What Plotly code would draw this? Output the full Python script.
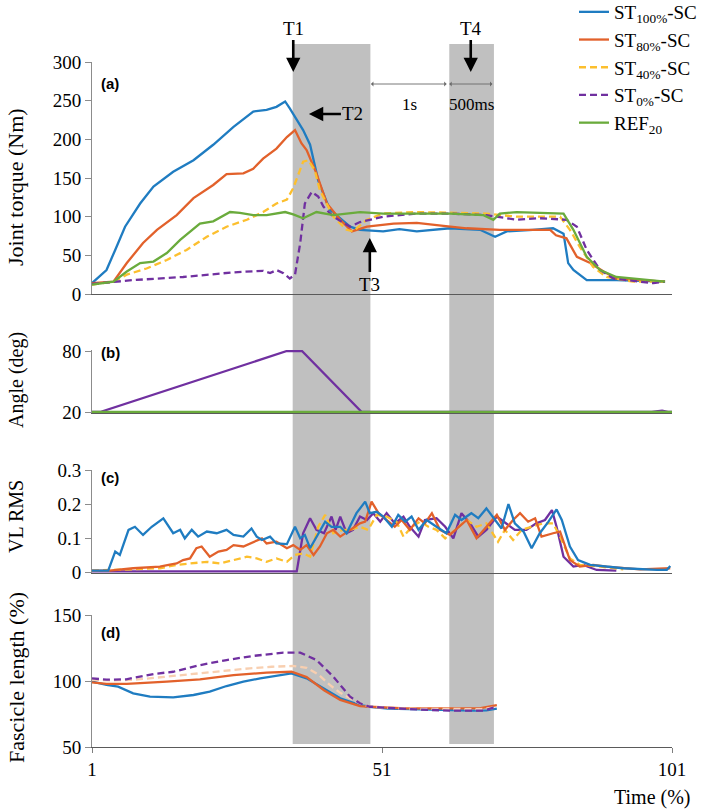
import plotly.graph_objects as go

W, H = 709, 810

# ---------------- data ----------------
series_names = ["ST<sub>100%</sub>-SC", "ST<sub>80%</sub>-SC", "ST<sub>40%</sub>-SC",
                "ST<sub>0%</sub>-SC", "REF<sub>20</sub>"]
series_colors = ["#1f7cc1", "#e2612b", "#fcbf2e", "#7030a0", "#6aab3c"]
series_dash = ["solid", "solid", "7px,4px", "7px,4px", "solid"]
st40_fascicle_color = "#f8cfb0"

x_ticks = [1, 51, 101]
torque_ticks = [0, 50, 100, 150, 200, 250, 300]
angle_ticks = [20, 80]
rms_ticks = [0, 0.1, 0.2, 0.3]
rms_tick_text = ["0", "0.1", "0.2", "0.3"]
fascicle_ticks = [50, 100, 150]

# (a) joint torque (Nm)
torque_st100_x = [1, 3.5, 5, 6.7, 9.3, 11.6, 15, 18.5, 21.9, 25.4, 28.8, 31.1, 32.8, 34.3, 35.1, 36,
                  37.4, 38.6, 40, 42, 45.5, 47.2, 51.2, 54, 57, 62.7, 67.9, 70.5, 72.5, 77, 80.5, 82.3,
                  83.1, 84, 86.3, 91.4, 99.8]
torque_st100_y = [14, 31, 57, 87, 117, 139, 158, 173, 193, 216, 236, 238, 242, 249, 240, 229,
                  212, 193, 147, 109, 87, 83, 81, 84, 81, 85, 83, 74, 81, 83, 85, 78,
                  40, 31, 18, 18, 16]
torque_st80_x = [1, 4.7, 7, 9.8, 12.2, 15.6, 18.5, 21.9, 24.2, 27.1, 28.8, 30.5, 32.8, 34.6, 36, 37.1,
                 38, 39.7, 41.5, 43.8, 45.8, 48.4, 53, 57, 61.6, 65.6, 71.3, 77, 80, 81, 82.8, 84.6,
                 86.9, 89.2, 91.4, 99.8]
torque_st80_y = [14, 16, 40, 66, 83, 102, 124, 141, 155, 156, 162, 175, 188, 203, 212, 195,
                 186, 156, 117, 96, 81, 87, 91, 92, 88, 85, 83, 83, 83, 76, 72, 48,
                 40, 29, 20, 16]
torque_st40_x = [1, 4.7, 7, 10.4, 13.9, 17.3, 20.8, 24.2, 27.7, 30.5, 32.8, 34.6, 35.7, 36.6, 37.4, 38.3,
                 39.4, 40.3, 42.6, 44.9, 46, 48.4, 51.2, 57, 62.7, 69, 74.2, 81.7, 83.4, 85.1, 87.4,
                 89.7, 94.3, 99.8]
torque_st40_y = [12, 16, 25, 33, 44, 57, 74, 87, 96, 106, 117, 122, 137, 156, 171, 173,
                 160, 134, 100, 83, 81, 96, 104, 106, 105, 104, 100, 100, 83, 61, 35,
                 22, 16, 16]
torque_st0_x = [1, 8.1, 16.7, 25.4, 30.5, 31.7, 32.8, 34, 35.1, 36, 36.9, 37.7, 38.9, 40, 40.9, 42.6,
                45.5, 47.2, 51.2, 57, 62.7, 69, 74.2, 78.2, 82.8, 84.6, 86.3, 88.6, 90.9, 97.8, 99.8]
torque_st0_y = [13, 18, 22, 28, 30, 27, 31, 27, 20, 25, 66, 117, 132, 126, 113, 100,
                87, 93, 100, 104, 104, 102, 96, 98, 96, 87, 57, 31, 20, 14, 16]
torque_ref_x = [1, 4.7, 7, 9.3, 11.6, 13.9, 16.2, 17.9, 19.6, 21.9, 24.8, 26.5, 28.8, 31.1, 34.3, 35.7,
                37.4, 39.7, 42.6, 47.2, 51.2, 57, 62.7, 68.5, 70.2, 71.3, 74.2, 82.3, 84, 86.3, 88.6,
                91.4, 99.8]
torque_ref_y = [12, 16, 29, 40, 42, 53, 70, 81, 91, 94, 106, 105, 102, 102, 106, 103,
                98, 106, 102, 106, 104, 104, 104, 102, 96, 104, 106, 104, 83, 48, 31,
                22, 16]

# (b) angle (deg)
angle_st0_x = [1, 2.4, 34.6, 37.2, 47.5, 97.5, 99.3, 100.3, 101]
angle_st0_y = [20, 20, 80, 80, 20, 20, 21.2, 20, 20]
angle_ref_x = [1, 20, 40, 60, 80, 101]
angle_ref_y = [20, 20, 20, 20, 20, 20]

# (c) VL RMS
rms_st100_x = [1, 3.8, 5, 5.8, 7.3, 8.4, 9.8, 11.3, 13.3, 15, 16.2, 17, 18.2, 19.3, 20.8, 22.5, 24.2,
               25.4, 27.1, 28.5, 29.4, 30.3, 31.7, 32.8, 34.6, 36, 36.9, 37.7, 38.6, 40, 41.2, 42.3,
               43.8, 44.9, 46.6, 48.1, 48.9, 50.1, 51.2, 52.7, 53.8, 55, 56.1, 57.3, 58.7, 60.4, 62.1,
               63.6, 64.7, 66.4, 67.6, 69, 70.5, 71.6, 72.8, 73.9, 75.4, 76.8, 78.2, 79.7, 81.1, 82,
               83.4, 84.8, 86.9, 89.7, 92.6, 98.4, 100.1, 100.7]
rms_st100_y = [0.004, 0.004, 0.06, 0.05, 0.124, 0.133, 0.109, 0.133, 0.158, 0.114, 0.124, 0.099, 0.124,
               0.104, 0.119, 0.114, 0.124, 0.109, 0.104, 0.128, 0.104, 0.094, 0.104, 0.084, 0.082, 0.133,
               0.099, 0.109, 0.07, 0.114, 0.148, 0.133, 0.133, 0.114, 0.173, 0.207, 0.173, 0.177, 0.163,
               0.133, 0.168, 0.148, 0.163, 0.124, 0.153, 0.133, 0.114, 0.168, 0.153, 0.173, 0.158, 0.187,
               0.153, 0.128, 0.2, 0.143, 0.119, 0.07, 0.114, 0.148, 0.184, 0.153, 0.075, 0.035, 0.021,
               0.016, 0.011, 0.006, 0.006, 0.018]
rms_st80_x = [1, 4, 8.1, 12.7, 14.2, 15.6, 16.7, 17.9, 19, 19.9, 21.3, 22.8, 24.2, 25.4, 27.1, 28.8,
              30.3, 31.1, 32.8, 34.6, 35.7, 36.9, 38, 39.2, 40.3, 41.5, 42.6, 43.8, 45.5, 47.2, 48.1,
              49.2, 50.4, 51.8, 53.2, 54.4, 55.8, 57.3, 58.4, 59.6, 61, 62.7, 64.2, 65.6, 67.3, 69,
              70.8, 72.2, 73.6, 74.8, 76.2, 77.4, 78.5, 80.5, 81.7, 83.4, 85.1, 87.4, 89.7, 95.5, 100.7]
rms_st80_y = [0.004, 0.004, 0.011, 0.016, 0.021, 0.025, 0.035, 0.04, 0.07, 0.075, 0.045, 0.06, 0.065,
              0.079, 0.075, 0.089, 0.099, 0.084, 0.089, 0.07, 0.079, 0.065, 0.079, 0.05, 0.075, 0.114,
              0.124, 0.104, 0.124, 0.143, 0.148, 0.207, 0.173, 0.153, 0.133, 0.153, 0.124, 0.158, 0.143,
              0.173, 0.124, 0.109, 0.133, 0.153, 0.099, 0.133, 0.168, 0.124, 0.153, 0.173, 0.148, 0.158,
              0.104, 0.114, 0.119, 0.035, 0.016, 0.021, 0.016, 0.008, 0.011]
rms_st40_x = [1, 8.1, 12.7, 15.6, 18.5, 20.8, 23.1, 25.4, 27.7, 29.4, 31.1, 32.8, 34.6, 36, 37.4, 38.6,
              40, 41.2, 42.6, 44.3, 45.5, 47.2, 48.6, 50.1, 51.8, 53.5, 54.7, 56.1, 57.6, 59, 60.4,
              61.9, 63.6, 65.6, 67.3, 69, 71, 72.2, 73.6, 75.1, 76.8, 78.8, 80.5, 81.7, 83.4, 85.1,
              88.6, 92.6]
rms_st40_y = [0.004, 0.008, 0.011, 0.021, 0.025, 0.03, 0.025, 0.035, 0.045, 0.04, 0.03, 0.04, 0.03, 0.05,
              0.055, 0.045, 0.133, 0.168, 0.114, 0.124, 0.124, 0.133, 0.124, 0.168, 0.163, 0.148, 0.104,
              0.133, 0.148, 0.133, 0.124, 0.099, 0.124, 0.153, 0.133, 0.143, 0.089, 0.124, 0.094, 0.124,
              0.133, 0.143, 0.143, 0.104, 0.04, 0.021, 0.016, 0.008]
rms_st0_x = [1, 36.3, 37.4, 38.6, 39.7, 41, 42.3, 43, 43.8, 44.9, 46, 47.2, 48.4, 49.5, 50.7, 51.8,
             53.2, 54.7, 55.8, 57.3, 58.4, 60.4, 61.9, 63.3, 64.7, 66.2, 67.6, 69, 70.8, 72.5, 73.9,
             75.9, 77.6, 79.1, 80.3, 81.1, 82.3, 84, 85.7, 88, 91.4]
rms_st0_y = [0.002, 0.002, 0.114, 0.158, 0.124, 0.114, 0.163, 0.124, 0.163, 0.114, 0.124, 0.163, 0.153,
             0.173, 0.148, 0.173, 0.143, 0.163, 0.133, 0.104, 0.153, 0.158, 0.133, 0.099, 0.173, 0.143,
             0.104, 0.124, 0.163, 0.143, 0.124, 0.124, 0.143, 0.153, 0.182, 0.133, 0.045, 0.016, 0.021,
             0.006, 0.004]

# (d) fascicle length (%)
fl_st100_x = [1, 3.5, 5.5, 8.1, 11, 15, 18.5, 21.3, 24.2, 27.1, 30, 32.8, 35.4, 38, 41, 43.8, 47.2,
              48.9, 52, 56, 60, 66.7, 69, 70.8]
fl_st100_y = [99.5, 97, 95.7, 90.7, 88.1, 87.6, 89.4, 91.9, 96.2, 99.5, 102, 104, 105.8, 102, 94, 86.9,
              81.8, 80.5, 79, 78.5, 78, 77.5, 77.8, 79]
fl_st80_x = [1, 3.5, 7, 10, 13.9, 19.6, 25.4, 31.1, 35.4, 38, 41, 43.8, 47.2, 48.9, 55, 62, 68, 70.8]
fl_st80_y = [99, 97.8, 97.8, 98.3, 99.5, 101.3, 104.5, 106.3, 107, 103, 93, 85.7, 81, 80.5, 79.3, 79.3,
             79.5, 81.8]
fl_st40_x = [1, 4, 8.1, 13, 19.6, 24, 28.2, 32, 35.6, 38, 40, 42, 43.8, 47.2, 48.9, 55, 62, 68, 70.8]
fl_st40_y = [101, 100.5, 100.8, 103, 105.8, 108, 109.6, 110.8, 111.4, 110, 105, 97, 91, 83, 80.5, 79,
             78.7, 78.7, 80]
fl_st0_x = [1, 3.5, 6.9, 11.6, 15, 19.6, 24.2, 28.8, 34, 36.9, 39.7, 42.6, 45.5, 47.2, 48.9, 55.3, 62.7,
            68.5, 70.8]
fl_st0_y = [102, 101, 101.3, 105.3, 107, 112, 115.9, 119, 121.5, 121.5, 115.9, 103.3, 88.1, 83.1, 80.5,
            78.8, 77.5, 77.5, 80.5]

# shaded phases (Time %) and event markers
band_starts = [35.6, 62.6]
band_ends = [49.0, 70.3]
event_labels = ["T1", "T2", "T3", "T4"]
event_times = [35.7, 38.4, 48.9, 66.3]
interval_labels = ["1s", "500ms"]
interval_starts = [49.1, 62.6]
interval_ends = [62.4, 70.3]

# ---------------- layout helpers (pixels -> paper) ----------------
def px(x):
    return x / W


def py(y):
    return 1 - y / H


SERIF = "Liberation Serif, Times New Roman, serif"
SANS = "Liberation Sans, Arial, sans-serif"
XDOM = [px(92), px(672)]

fig = go.Figure()

torque = [(torque_st100_x, torque_st100_y), (torque_st80_x, torque_st80_y), (torque_st40_x, torque_st40_y),
          (torque_st0_x, torque_st0_y), (torque_ref_x, torque_ref_y)]
for i, (xs, ys) in enumerate(torque):
    fig.add_trace(go.Scatter(x=xs, y=ys, mode="lines", name=series_names[i], legendgroup=str(i),
                             line=dict(color=series_colors[i], width=2.3, dash=series_dash[i]),
                             xaxis="x", yaxis="y", showlegend=True))

fig.add_trace(go.Scatter(x=angle_st0_x, y=angle_st0_y, mode="lines", legendgroup="3", showlegend=False,
                         line=dict(color=series_colors[3], width=2.3), xaxis="x2", yaxis="y2"))
fig.add_trace(go.Scatter(x=angle_ref_x, y=angle_ref_y, mode="lines", legendgroup="4", showlegend=False,
                         line=dict(color=series_colors[4], width=2.3), xaxis="x2", yaxis="y2"))

rms = [(rms_st100_x, rms_st100_y), (rms_st80_x, rms_st80_y), (rms_st40_x, rms_st40_y), (rms_st0_x, rms_st0_y)]
rms_dash = ["solid", "solid", "7px,4px", "solid"]
for i in [3, 2, 1, 0]:
    xs, ys = rms[i]
    fig.add_trace(go.Scatter(x=xs, y=ys, mode="lines", legendgroup=str(i), showlegend=False,
                             line=dict(color=series_colors[i], width=2.3, dash=rms_dash[i]),
                             xaxis="x3", yaxis="y3"))

fl = [(fl_st100_x, fl_st100_y), (fl_st80_x, fl_st80_y), (fl_st40_x, fl_st40_y), (fl_st0_x, fl_st0_y)]
fl_colors = [series_colors[0], series_colors[1], st40_fascicle_color, series_colors[3]]
for i, (xs, ys) in enumerate(fl):
    fig.add_trace(go.Scatter(x=xs, y=ys, mode="lines", legendgroup=str(i), showlegend=False,
                             line=dict(color=fl_colors[i], width=2.3, dash=series_dash[i]),
                             xaxis="x4", yaxis="y4"))

# shaded bands
for s, e in zip(band_starts, band_ends):
    fig.add_shape(type="rect", xref="x", yref="paper", x0=s, x1=e, y0=py(744), y1=py(44),
                  fillcolor="#c0c0c0", line=dict(width=0), layer="below")

tickfont = dict(family=SERIF, size=19, color="#000")


def xaxis_cfg(anchor, labels=False):
    d = dict(domain=XDOM, range=[1, 101], anchor=anchor, showgrid=False, zeroline=False,
             showline=True, linecolor="#5a5a5a", linewidth=1, automargin=False)
    if labels:
        d.update(tickvals=x_ticks, ticks="outside", ticklen=5, tickcolor="#7f7f7f",
                 tickfont=tickfont, showticklabels=True)
    else:
        d.update(ticks="", showticklabels=False)
    return d


def yaxis_cfg(anchor, dom, rng, tv, tt=None):
    d = dict(domain=dom, range=rng, anchor=anchor, showgrid=False, zeroline=False, showline=True,
             linecolor="#8c8c8c", linewidth=1, ticks="outside", ticklen=6, tickcolor="#8c8c8c",
             tickvals=tv, tickfont=tickfont, automargin=False)
    if tt is not None:
        d["ticktext"] = tt
    return d


annotations = []
# axis titles
for txt, yc, sz in [("Joint torque (Nm)", 187, 22), ("Angle (deg)", 380, 20), ("VL RMS", 517, 20),
                    ("Fascicle length (%)", 678, 22)]:
    annotations.append(dict(text=txt, x=px(16), y=py(yc), xref="paper", yref="paper", showarrow=False,
                            textangle=-90, xanchor="center", yanchor="middle",
                            font=dict(family=SERIF, size=sz, color="#000")))
annotations.append(dict(text="Time (%)", x=px(692), y=py(797), xref="paper", yref="paper", showarrow=False,
                        xanchor="right", yanchor="middle", font=dict(family=SERIF, size=20, color="#000")))
# panel letters
for txt, yc in [("(a)", 83), ("(b)", 352), ("(c)", 477), ("(d)", 632)]:
    annotations.append(dict(text="<b>" + txt + "</b>", x=px(99), y=py(yc), xref="paper", yref="paper",
                            showarrow=False, xanchor="left", yanchor="middle",
                            font=dict(family=SANS, size=15, color="#000")))
# event arrows
arrow_cfg = dict(showarrow=True, arrowhead=2, arrowsize=1.1, arrowwidth=2.6, arrowcolor="#000",
                 font=dict(family=SERIF, size=19, color="#000"), xref="x", yref="paper")
annotations.append(dict(text=event_labels[0], x=event_times[0], y=py(72), ax=0, ay=-44, **arrow_cfg))
annotations.append(dict(text=event_labels[1], x=event_times[1], y=py(114), ax=44, ay=0, **arrow_cfg))
annotations.append(dict(text=event_labels[2], x=event_times[2], y=py(238), ax=0, ay=46, **arrow_cfg))
annotations.append(dict(text=event_labels[3], x=event_times[3], y=py(72), ax=0, ay=-44, **arrow_cfg))
# interval double arrows
for lab, s, e in zip(interval_labels, interval_starts, interval_ends):
    annotations.append(dict(text="", x=s, y=py(84), ax=e, ay=0, axref="x", ayref="pixel", xref="x",
                            yref="paper", showarrow=True, arrowhead=1, arrowside="end+start",
                            arrowsize=0.9, arrowwidth=0.9, arrowcolor="#6a6a6a"))
    annotations.append(dict(text=lab, x=(s + e) / 2, y=py(104), xref="x", yref="paper", showarrow=False,
                            xanchor="center", yanchor="middle",
                            font=dict(family=SERIF, size=17, color="#000")))

fig.update_layout(
    width=W, height=H, autosize=False,
    margin=dict(l=0, r=0, t=0, b=0, pad=0, autoexpand=False),
    paper_bgcolor="white", plot_bgcolor="rgba(0,0,0,0)",
    font=dict(family=SERIF, color="#000"),
    xaxis=xaxis_cfg("y"), xaxis2=xaxis_cfg("y2"), xaxis3=xaxis_cfg("y3"), xaxis4=xaxis_cfg("y4", True),
    yaxis=yaxis_cfg("x", [py(294), py(62)], [0, 300], torque_ticks),
    yaxis2=yaxis_cfg("x2", [py(413.02), py(349.98)], [19, 81], angle_ticks),
    yaxis3=yaxis_cfg("x3", [py(573.02), py(470)], [-0.003, 0.3], rms_ticks, rms_tick_text),
    yaxis4=yaxis_cfg("x4", [py(747), py(615)], [50, 150], fascicle_ticks),
    legend=dict(x=px(574), y=py(-7), xanchor="left", yanchor="top", bgcolor="rgba(0,0,0,0)",
                font=dict(family=SERIF, size=19, color="#000"), itemwidth=30, tracegroupgap=5,
                traceorder="normal"),
    annotations=annotations,
    showlegend=True,
)

fig.write_html("out.html")
